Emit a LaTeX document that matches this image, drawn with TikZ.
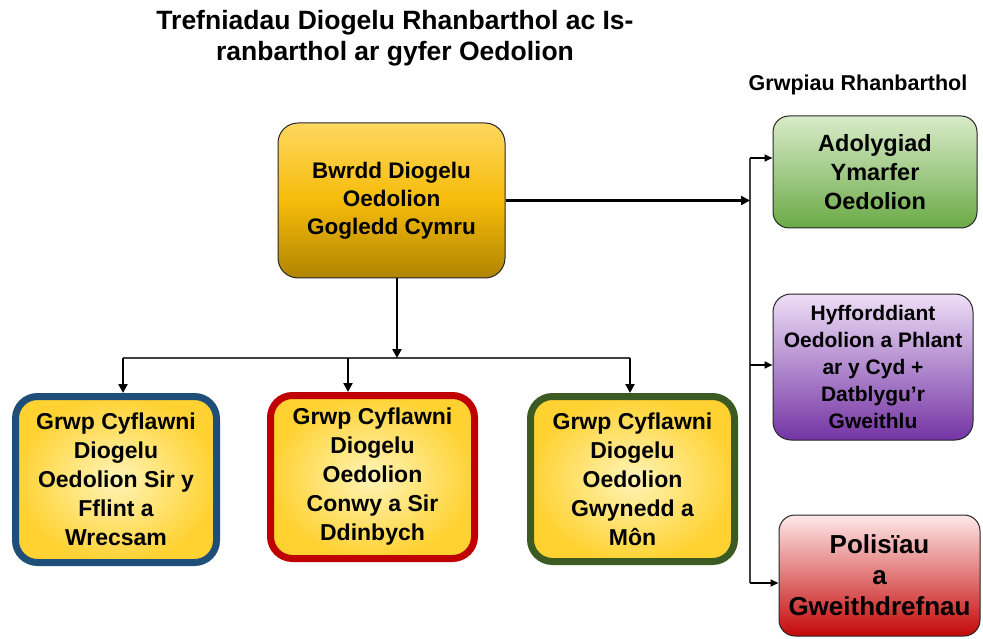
\documentclass[tikz,border=0pt]{standalone}
\usepackage{fontspec}
\setmainfont{Liberation Sans}
\usetikzlibrary{arrows.meta}
\definecolor{gold1}{HTML}{FFD75E}
\definecolor{gold2}{HTML}{F6BC0A}
\definecolor{gold3}{HTML}{B08400}
\definecolor{grn1}{HTML}{D9EBC9}
\definecolor{grn2}{HTML}{6AAA46}
\definecolor{pur1}{HTML}{EEDFF7}
\definecolor{pur2}{HTML}{7434A4}
\definecolor{red1}{HTML}{FFE8E8}
\definecolor{red2}{HTML}{C40808}
\definecolor{yin}{HTML}{FFF4B8}
\definecolor{yout}{HTML}{FFD232}
\definecolor{bblue}{HTML}{1F4E79}
\definecolor{bred}{HTML}{C00000}
\definecolor{bgreen}{HTML}{3B5B22}
\begin{document}
\begin{tikzpicture}[x=1pt,y=-1pt,
  topbox/.style={draw=black!85, line width=1pt, rounded corners=20pt, align=center,
    inner sep=0pt, font=\bfseries\fontsize{22.5}{28}\selectfont},
  grpbox/.style={line width=7pt, rounded corners=22pt, align=center, inner sep=0pt,
    shading=radial, inner color=yin, outer color=yout,
    font=\bfseries\fontsize{23}{29}\selectfont},
  arr/.style={line width=2.8pt, -{Triangle[length=9pt,width=9pt]}},
  sarr/.style={line width=2pt, -{Triangle[length=8pt,width=7pt]}},
  link/.style={line width=1.4pt, draw=black!75}
]
\useasboundingbox (0,0) rectangle (983,639);

\node[align=center, font=\bfseries\fontsize{26.5}{31}\selectfont] (title) at (395,38)
  {Trefniadau Diogelu Rhanbarthol ac Is-\\ranbarthol ar gyfer Oedolion};
\node[font=\bfseries\fontsize{21.5}{26}\selectfont] (rg) at (858,85) {Grwpiau Rhanbarthol};

\node[topbox, minimum width=227pt, minimum height=155pt,
  top color=gold1, bottom color=gold3, middle color=gold2] (top) at (391.5,200.5)
  {Bwrdd Diogelu\\Oedolion\\Gogledd Cymru};

\node[topbox, minimum width=204pt, minimum height=112pt, rounded corners=16pt,
  top color=grn1, bottom color=grn2, font=\bfseries\fontsize{23.5}{29}\selectfont] (green) at (875,172)
  {Adolygiad\\Ymarfer\\Oedolion};

\node[topbox, minimum width=200pt, minimum height=146pt, rounded corners=18pt,
  top color=pur1, bottom color=pur2, font=\bfseries\fontsize{21}{27}\selectfont] (purple) at (873,367)
  {Hyfforddiant\\Oedolion a Phlant\\ar y Cyd +\\Datblygu’r\\Gweithlu};

\node[topbox, minimum width=201pt, minimum height=121pt, rounded corners=16pt,
  top color=red1, bottom color=red2, font=\bfseries\fontsize{26}{31}\selectfont] (red) at (879.5,575.5)
  {Polisïau\\a\\Gweithdrefnau};

\node[grpbox, draw=bblue, minimum width=201pt, minimum height=166pt] (b1) at (116,479.5)
  {Grwp Cyflawni\\Diogelu\\Oedolion Sir y\\Fflint a\\Wrecsam};
\node[grpbox, draw=bred, minimum width=204pt, minimum height=163pt] (b2) at (372.5,477)
  {Grwp Cyflawni\\Diogelu\\Oedolion\\Conwy a Sir\\Ddinbych};
\node[grpbox, draw=bgreen, minimum width=204pt, minimum height=165pt] (b3) at (632.5,479)
  {Grwp Cyflawni\\Diogelu\\Oedolion\\Gwynedd a\\Môn};

% hub connectors
\coordinate (hub) at (397,358);
\coordinate (d1) at (123,358);
\coordinate (d2) at (348,358);
\coordinate (d3) at (630,358);
\draw[link] (d1) -- (d3);
\draw[arr] (top.south -| hub) -- (hub);
\draw[arr] (d1) -- (d1 |- b1.north);
\draw[arr] (d2) -- (d2 |- b2.north);
\draw[arr] (d3) -- (d3 |- b3.north);

% right side
\coordinate (v1) at (750,158);
\coordinate (v2) at (750,365);
\coordinate (v3) at (750,583);
\draw[link] (v1) -- (v3);
\draw[arr] (top.east) -- (top.east -| v1);
\draw[sarr] (v1) -- (v1 -| green.west);
\draw[sarr] (v2) -- (v2 -| purple.west);
\draw[sarr] (v3) -- (v3 -| red.west);
\end{tikzpicture}
\end{document}
